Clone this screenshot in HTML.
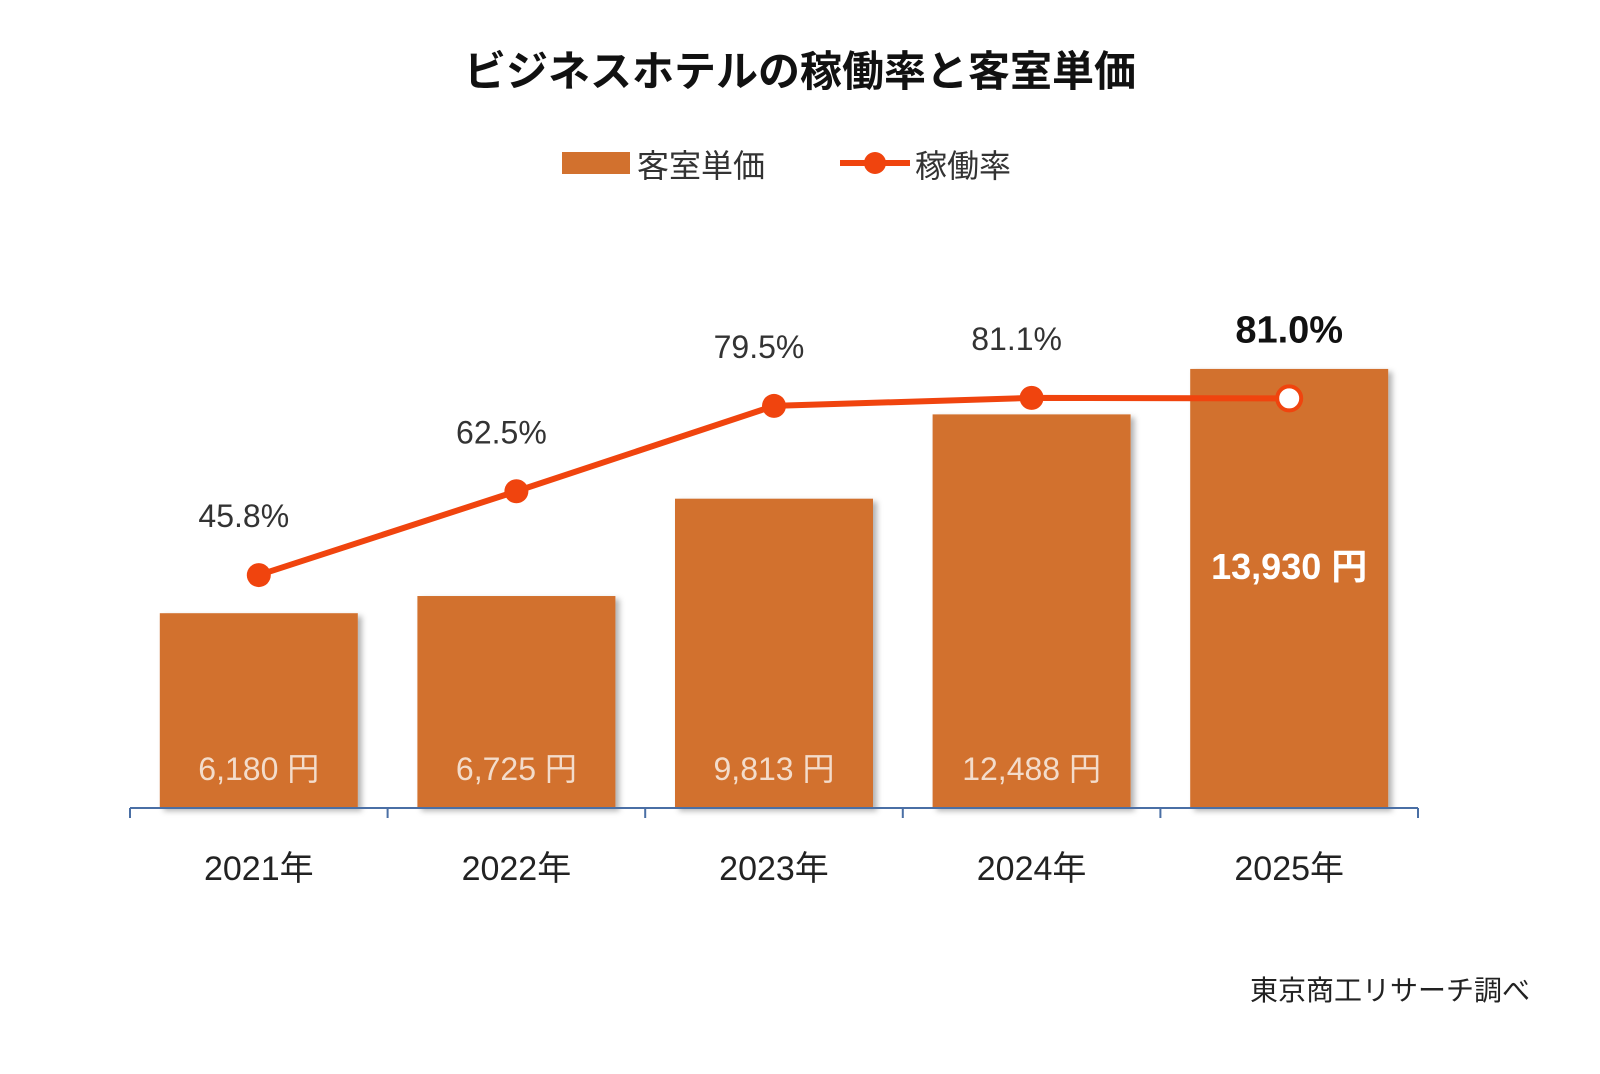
<!DOCTYPE html>
<html><head><meta charset="utf-8"><style>
body{margin:0;background:#fff;}
svg text{font-family:"Liberation Sans","Noto Sans CJK JP",sans-serif;}
</style></head><body>
<svg id="chart" width="1600" height="1069" viewBox="0 0 1600 1069" xmlns="http://www.w3.org/2000/svg">
<defs><filter id="sh" x="-10%" y="-10%" width="130%" height="130%"><feDropShadow dx="4" dy="3" stdDeviation="3" flood-color="#000" flood-opacity="0.3"/></filter></defs>
<text x="800" y="86" text-anchor="middle" font-size="42" font-weight="bold" fill="#111">ビジネスホテルの稼働率と客室単価</text>
<g>
<rect x="562" y="152" width="68" height="22" fill="#D2712E"/>
<text x="637" y="177" font-size="32" fill="#333">客室単価</text>
<line x1="840" y1="163" x2="910" y2="163" stroke="#F0440E" stroke-width="6"/>
<circle cx="875" cy="163" r="11" fill="#F0440E"/>
<text x="915" y="177" font-size="32" fill="#333">稼働率</text>
</g>
<g id="bars"></g><g id="line"></g><g id="axis"></g>
<text x="1530" y="1000" text-anchor="end" font-size="28" fill="#222">東京商工リサーチ調べ</text>
</svg>
<script>
const categories=["2021年","2022年","2023年","2024年","2025年"];
const prices=[6180,6725,9813,12488,13930];
const priceLabels=["6,180 円","6,725 円","9,813 円","12,488 円","13,930 円"];
const rates=[45.8,62.5,79.5,81.1,81.0];
const rateLabels=["45.8%","62.5%","79.5%","81.1%","81.0%"];
const NS="http://www.w3.org/2000/svg";
const x0=130,x1=1418,base=808,step=(x1-x0)/categories.length,bw=198;
const xc=i=>x0+step*(i+0.5);
const yP=v=>base-v*0.03152;
const yR=v=>805-v*5.02;
function mk(tag,attrs,parent,txt){const e=document.createElementNS(NS,tag);for(const k in attrs)e.setAttribute(k,attrs[k]);if(txt!==undefined)e.textContent=txt;document.getElementById(parent).appendChild(e);return e;}
const last=categories.length-1;
prices.forEach((v,i)=>{
 const r=mk('rect',{x:xc(i)-bw/2,y:yP(v),width:bw,height:base-yP(v),fill:'#D2712E',filter:'url(#sh)'},'bars');
 
 
 const isLast=i===last;
 const t=mk('text',{x:xc(i),y:isLast?yP(v)+210:780,'text-anchor':'middle','font-size':isLast?36:32,'font-weight':isLast?'bold':'normal',fill:isLast?'#fff':'#f3dccb'},'bars',priceLabels[i]);
 
 
});
const pts=rates.map((v,i)=>xc(i)+','+yR(v)).join(' ');
const pl=mk('polyline',{points:pts,fill:'none',stroke:'#F0440E','stroke-width':6},'line');


rates.forEach((v,i)=>{
 const isLast=i===last;
 const c=mk('circle',{cx:xc(i),cy:yR(v),r:12,fill:isLast?'#fff':'#F0440E',stroke:'#F0440E','stroke-width':isLast?4:0},'line');
 
 
 const t=mk('text',{x:xc(i)+(isLast?0:-15),y:yR(v)-(isLast?56:48),'text-anchor':'middle','font-size':isLast?38:32,'font-weight':isLast?'bold':'normal',fill:isLast?'#111':'#333'},'line',rateLabels[i]);
 
 
});
const ax=mk('line',{x1:x0,y1:base,x2:x1,y2:base,stroke:'#4a6fa5','stroke-width':2},'axis');


for(let i=0;i<=categories.length;i++){
 const tk=mk('line',{x1:x0+step*i,y1:base,x2:x0+step*i,y2:base+10,stroke:'#4a6fa5','stroke-width':2},'axis');
 
 
}
categories.forEach((c,i)=>{
 const t=mk('text',{x:xc(i),y:880,'text-anchor':'middle','font-size':34,fill:'#222'},'axis',c);
 
 
});
</script>
</body></html>
